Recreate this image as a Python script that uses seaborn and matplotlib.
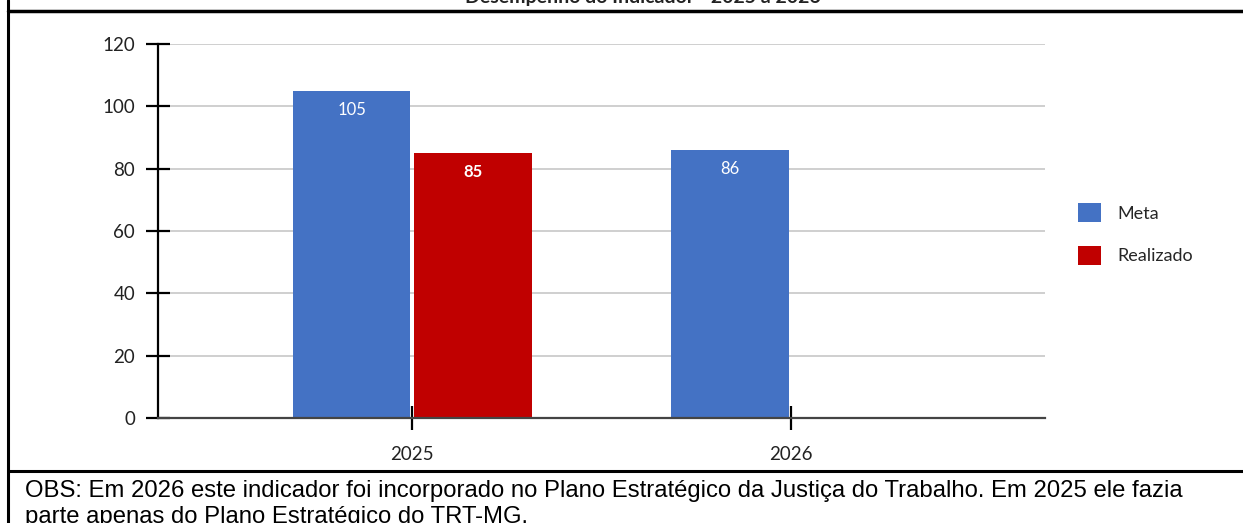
import numpy as np
import pandas as pd
import matplotlib
matplotlib.use("Agg")
import matplotlib.pyplot as plt
from matplotlib.lines import Line2D
import seaborn as sns


# Data ---------------------------------------------------------------------

anos = ["2025", "2026"]
meta = [105, 86]
realizado = [85, np.nan]
series = ["Meta", "Realizado"]
cores = ["#4472C4", "#C00000"]
titulo = "Desempenho do Indicador - 2025 a 2026"
obs = ("OBS: Em 2026 este indicador foi incorporado no Plano Estratégico da Justiça do Trabalho. "
       "Em 2025 ele fazia\nparte apenas do Plano Estratégico do TRT-MG.")

df = pd.DataFrame({
    "ano": anos * 2,
    "serie": [series[0]] * len(anos) + [series[1]] * len(anos),
    "valor": meta + realizado,
})


# Plot ---------------------------------------------------------------------

sns.set_style("white")
plt.rcParams["font.family"] = ["Lato", "DejaVu Sans"]

W, H = 1243, 523
fig = plt.figure(figsize=(W / 100, H / 100), dpi=100)
ax = fig.add_axes([158 / W, 1 - 418 / H, (1045 - 158) / W, (418 - 44) / H])

sns.barplot(
    data=df, x="ano", y="valor", hue="serie", hue_order=series,
    palette=cores, width=0.64, gap=0.03, ax=ax, saturation=1,
    edgecolor="none", linewidth=0,
)

ax.set_xlim(-0.672, 1.672)
ax.set_ylim(0, 120)
ax.set_yticks(range(0, 121, 20))
ax.set_xlabel("")
ax.set_ylabel("")
ax.yaxis.grid(True, color="#cccccc", linewidth=1.3)
ax.set_axisbelow(True)

for s in ["top", "right"]:
    ax.spines[s].set_visible(False)
ax.spines["left"].set_color("black")
ax.spines["left"].set_linewidth(1.6)
ax.spines["bottom"].set_color("#444444")
ax.spines["bottom"].set_linewidth(1.6)

ax.tick_params(axis="both", direction="inout", length=17, width=1.6,
               color="black", labelsize=13.5, labelcolor="#222222",
               bottom=True, left=True)
ax.tick_params(axis="y", pad=8)
ax.tick_params(axis="x", pad=12)

# value labels inside the bars
for i, cont in enumerate(ax.containers):
    labels = ax.bar_label(cont, fmt="%.0f", label_type="edge", padding=-8,
                          color="white", fontsize=12)
    for t in labels:
        t.set_va("top")
        if i == 1:
            t.set_fontweight("bold")

ax.legend(
    loc="upper left", bbox_to_anchor=(1062 / W, 1 - 187 / H),
    bbox_transform=fig.transFigure, frameon=False, fontsize=13,
    handlelength=1.25, handleheight=1.25, labelspacing=1.3, handletextpad=0.9,
)

# title (cut at the top of the picture, as in the original)
fig.text(0.517, 1 - 3 / H, titulo, ha="center", va="baseline",
         fontsize=14, fontweight="bold", color="#222222")

# frame lines
fig.add_artist(Line2D([8 / W, 1], [1 - 11 / H, 1 - 11 / H], color="black", linewidth=2.5))
fig.add_artist(Line2D([8 / W, 1], [1 - 471 / H, 1 - 471 / H], color="black", linewidth=2.2))
fig.add_artist(Line2D([8 / W, 8 / W], [0, 1], color="black", linewidth=2.2))

fig.text(25 / W, 1 - 497 / H, obs.split("\n")[0], ha="left", va="baseline",
         fontsize=17.2, family=["Liberation Sans", "DejaVu Sans"], color="black")
fig.text(25 / W, 1 - 523 / H, obs.split("\n")[1], ha="left", va="baseline",
         fontsize=17.2, family=["Liberation Sans", "DejaVu Sans"], color="black")

fig.savefig("out.png", dpi=100)
